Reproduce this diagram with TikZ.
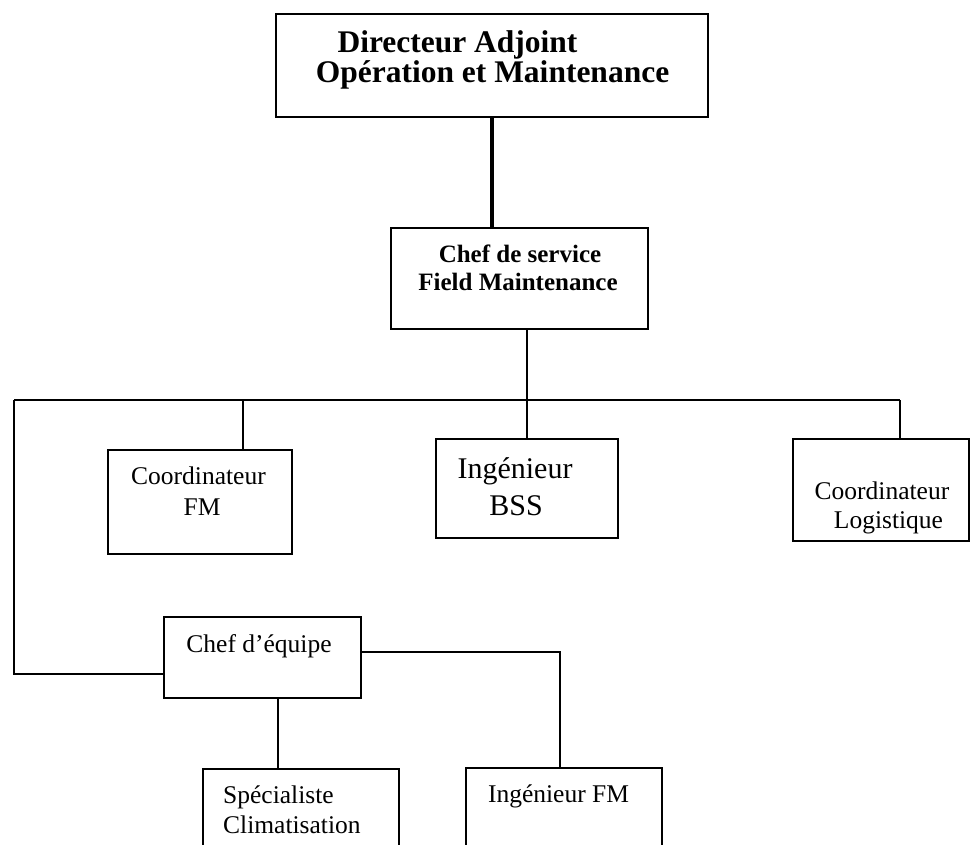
\documentclass[tikz,border=0pt]{standalone}
\usepackage{fontspec}
\setmainfont{Liberation Serif}
\begin{document}
\begin{tikzpicture}[x=1pt,y=-1pt,
  box/.style={draw=black, line width=1.6pt, inner sep=0pt, anchor=north west},
  link/.style={draw=black, line width=1.4pt},
  heavylink/.style={draw=black, line width=3.4pt},
  midlink/.style={draw=black, line width=2.4pt},
  bigbold/.style={anchor=base, inner sep=0pt, font=\fontsize{31.5}{36}\bfseries\selectfont},
  medbold/.style={anchor=base, inner sep=0pt, font=\fontsize{25}{30}\bfseries\selectfont},
  plain/.style={anchor=base, inner sep=0pt, font=\fontsize{25.5}{30}\selectfont},
  large/.style={anchor=base, inner sep=0pt, font=\fontsize{30}{36}\selectfont}]
\useasboundingbox (0,0) rectangle (972,845);
\clip (0,0) rectangle (972,845);

% boxes
\node[box, minimum width=432pt, minimum height=103pt] (dir) at (275,13) {};
\node[box, minimum width=257pt, minimum height=101pt] (chefsvc) at (390,227) {};
\node[box, minimum width=184pt, minimum height=104pt] (coordfm) at (107,449) {};
\node[box, minimum width=182pt, minimum height=99pt] (ingbss) at (435,438) {};
\node[box, minimum width=176pt, minimum height=102pt] (coordlog) at (792,438) {};
\node[box, minimum width=197pt, minimum height=81pt] (chefeq) at (163,616) {};
\node[box, minimum width=196pt, minimum height=110pt] (spec) at (202,768) {};
\node[box, minimum width=196pt, minimum height=110pt] (ingfm) at (465,767) {};

% labels
\node[bigbold] (dir1) at (457.5,53) {Directeur Adjoint};
\node[bigbold] (dir2) at (492.5,83) {Opération et Maintenance};
\node[medbold] (svc1) at (520,262) {Chef de service};
\node[medbold] (svc2) at (518,290) {Field Maintenance};
\node[plain] (cfm1) at (198.5,484) {Coordinateur};
\node[plain] (cfm2) at (202,515) {FM};
\node[large] (bss1) at (515,478) {Ingénieur};
\node[large] (bss2) at (516,515) {BSS};
\node[plain] (clog1) at (882,499) {Coordinateur};
\node[plain] (clog2) at (888.5,528) {Logistique};
\node[plain] (eq1) at (259,652) {Chef d'équipe};
\node[plain, anchor=base west] (spec1) at (223,803) {Spécialiste};
\node[plain, anchor=base west] (spec2) at (223,833) {Climatisation};
\node[plain] (ifm1) at (558.5,802) {Ingénieur FM};

% connector points
\coordinate (bus) at (527,400);
\coordinate (busL) at (14,400);
\coordinate (busR) at (900,400);
\coordinate (tapfm) at (243,400);
\coordinate (elbow) at (14,674);
\coordinate (eqR) at (560,652);
\coordinate (eqD) at (278,697);

% connectors
\draw[heavylink] (dir.south) -- (dir.south |- chefsvc.north);
\draw[midlink] (chefsvc.south -| bus) -- (bus);
\draw[link] (busL) -- (busR);
\draw[link] (tapfm) -- (tapfm |- coordfm.north);
\draw[midlink] (bus) -- (bus |- ingbss.north);
\draw[link] (busR) -- (busR |- coordlog.north);
\draw[link] (busL) -- (elbow) -- (elbow -| chefeq.west);
\draw[link] (eqR -| chefeq.east) -- (eqR) -- (eqR |- ingfm.north);
\draw[link] (eqD) -- (eqD |- spec.north);
\end{tikzpicture}
\end{document}
